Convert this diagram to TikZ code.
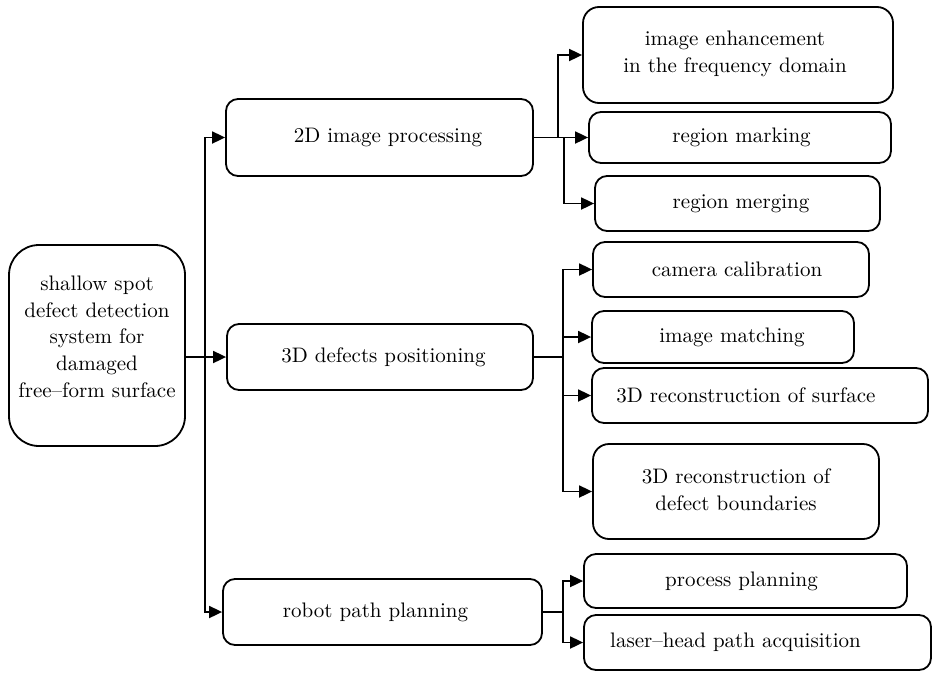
\documentclass[tikz,border=0pt]{standalone}
\usetikzlibrary{arrows.meta}
\font\lmten="[lmroman10-regular]:mapping=tex-text;" at 21pt
\newcommand\tx[3]{\raisebox{#2}[\height][\depth]{\kern#1\relax#3\kern-#1\relax}}
\begin{document}
\begin{tikzpicture}[x=1pt,y=-1pt,
  font={\fontsize{21}{26.7}\selectfont\lmten},
  box/.style={draw, line width=1.8pt, rounded corners=12pt, inner sep=0pt},
  conn/.style={line width=1.8pt},
  arr/.style={conn, -{Triangle[length=13pt,width=12pt]}}]
\fill[white] (0,0) rectangle (933,672);
\useasboundingbox (0,0) rectangle (933,672);

% root
\node[box, rounded corners=30pt, minimum width=176pt, minimum height=201pt] (root) at (97,345.5)
  {\tx{0pt}{7pt}{\begin{tabular}{@{}c@{}}shallow spot\\defect detection\\system for\\damaged\\free–form surface\end{tabular}}};

% level 1
\node[box, minimum width=307pt, minimum height=77pt] (p2d) at (379.5,137.5) {\tx{8.5pt}{0pt}{2D image processing}};
\node[box, minimum width=306pt, minimum height=66pt] (p3d) at (380,357) {\tx{3.5pt}{0pt}{3D defects positioning}};
\node[box, minimum width=319pt, minimum height=66pt] (prob) at (382.5,612) {\tx{-7pt}{0pt}{robot path planning}};

% level 2
\node[box, rounded corners=16pt, minimum width=310pt, minimum height=96pt] (enh) at (738,55)
  {\tx{-3pt}{1.5pt}{\begin{tabular}{@{}c@{}}image enhancement\\in the frequency domain\end{tabular}}};
\node[box, minimum width=302pt, minimum height=51pt] (mark) at (740,137.5) {\tx{1.5pt}{0pt}{region marking}};
\node[box, minimum width=285pt, minimum height=55pt] (merg) at (737.5,203.5) {\tx{3.5pt}{0pt}{region merging}};
\node[box, minimum width=276pt, minimum height=55pt] (cam) at (731,269.5) {\tx{6pt}{0pt}{camera calibration}};
\node[box, minimum width=262pt, minimum height=52pt] (match) at (723,337) {\tx{9pt}{0pt}{image matching}};
\node[box, minimum width=336pt, minimum height=55pt] (surf) at (760,395.5) {\tx{-14pt}{0pt}{3D reconstruction of surface}};
\node[box, rounded corners=16pt, minimum width=286pt, minimum height=95pt] (bound) at (736,491.5)
  {\begin{tabular}{@{}c@{}}3D reconstruction of\\defect boundaries\end{tabular}};
\node[box, minimum width=323pt, minimum height=54pt] (plan) at (745.5,581) {\tx{-4pt}{0pt}{process planning}};
\node[box, minimum width=347pt, minimum height=55pt] (laser) at (757.5,642.5) {\tx{-22pt}{0pt}{laser–head path acquisition}};

% junctions
\coordinate (j) at (205,357);
\coordinate (a1) at (558,137.5);
\coordinate (a2) at (564,137.5);
\coordinate (b) at (563,357);
\coordinate (c) at (563,612);

% root to level 1
\draw[conn] (root.east |- j) -- (j);
\draw[arr] (j) |- (p2d.west);
\draw[arr] (j) -- (p3d.west);
\draw[arr] (j) |- (prob.west);

% 2D branch
\draw[arr] (p2d.east) -- (mark.west);
\draw[arr] (a1) |- (enh.west);
\draw[arr] (a2) |- (merg.west);

% 3D branch
\draw[conn] (p3d.east) -- (b);
\draw[arr] (b) |- (cam.west);
\draw[arr] (b) |- (match.west);
\draw[arr] (b) |- (surf.west);
\draw[arr] (b) |- (bound.west);

% robot branch
\draw[conn] (prob.east) -- (c);
\draw[arr] (c) |- (plan.west);
\draw[arr] (c) |- (laser.west);
\end{tikzpicture}
\end{document}
